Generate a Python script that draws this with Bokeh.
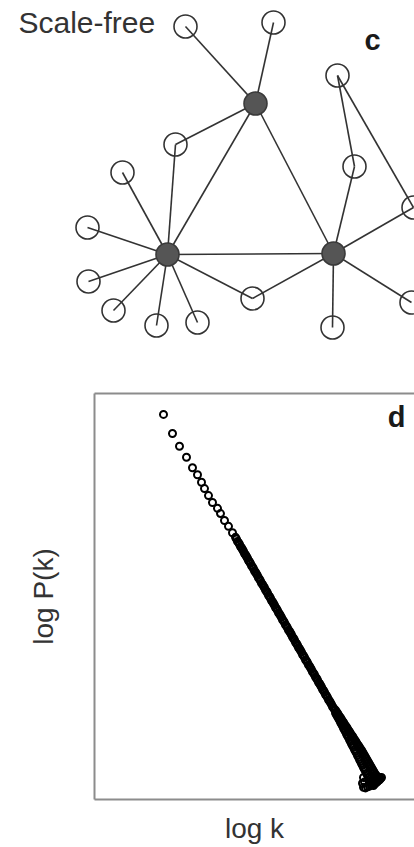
from bokeh.plotting import figure
from bokeh.models import Range1d, Label, LinearAxis, FixedTicker, ColumnDataSource
from bokeh.layouts import column
from bokeh.embed import file_html
from bokeh.resources import INLINE

# ---------------- Panel c: scale-free network (layout positions) ----------------
node_x = [255, 167, 333, 185, 273, 175, 337, 354, 413, 122, 87, 88, 113, 156, 197, 252, 332, 411]
node_y = [103, 254, 253, 26, 22, 144, 75, 166, 207, 172, 227, 281, 310, 325, 322, 298, 327, 302]
node_hub = [True, True, True] + [False] * 15
edge_from = [0, 0, 1, 0, 0, 0, 5, 6, 6, 7, 8, 9, 10, 11, 12, 13, 14, 15, 15, 16, 17]
edge_to = [1, 2, 2, 3, 4, 5, 1, 7, 8, 2, 2, 1, 1, 1, 1, 1, 1, 1, 2, 2, 2]

# ---------------- Panel d: degree distribution (log k, log P(k)) ----------------
log_k = [0.69, 0.78, 0.85, 0.92, 0.98, 1.03, 1.07, 1.10, 1.14, 1.18, 1.23, 1.26, 1.30, 1.34, 1.38, 1.41,
         1.42, 1.43, 1.44, 1.45, 1.46, 1.47, 1.48, 1.49, 1.50, 1.51, 1.52, 1.53, 1.54, 1.55, 1.56, 1.57,
         1.58, 1.59, 1.60, 1.61, 1.62, 1.63, 1.64, 1.65, 1.66, 1.67, 1.68, 1.69, 1.70, 1.71, 1.72, 1.73,
         1.74, 1.75, 1.76, 1.77, 1.78, 1.79, 1.80, 1.81, 1.82, 1.83, 1.84, 1.85, 1.86, 1.87, 1.88, 1.89,
         1.90, 1.91, 1.92, 1.93, 1.94, 1.95, 1.96, 1.97, 1.98, 1.99, 2.00, 2.01, 2.02, 2.03, 2.04, 2.05,
         2.06, 2.07, 2.08, 2.09, 2.10, 2.11, 2.12, 2.13, 2.14, 2.15, 2.16, 2.17, 2.18, 2.19, 2.20, 2.21,
         2.22, 2.23, 2.24, 2.25, 2.26, 2.27, 2.28, 2.29, 2.30, 2.31, 2.32, 2.33, 2.34, 2.35, 2.36, 2.37,
         2.38, 2.39, 2.40,
         2.41, 2.41, 2.42, 2.42, 2.43, 2.43, 2.44, 2.44, 2.45, 2.45, 2.46, 2.46, 2.47, 2.47, 2.48, 2.48,
         2.49, 2.49, 2.50, 2.50, 2.51, 2.51, 2.52, 2.52, 2.53, 2.53, 2.54, 2.54, 2.55, 2.55, 2.56, 2.56,
         2.57, 2.57, 2.58, 2.58, 2.59, 2.59, 2.60, 2.60, 2.61, 2.61, 2.62, 2.62, 2.63, 2.63, 2.64, 2.64,
         2.65, 2.65, 2.66, 2.66, 2.67, 2.67, 2.68, 2.68, 2.69, 2.69, 2.70, 2.70, 2.71, 2.71, 2.72, 2.72,
         2.73, 2.73, 2.74, 2.74, 2.75, 2.75, 2.76, 2.76, 2.77, 2.77, 2.78, 2.78, 2.79, 2.79, 2.80, 2.80,
         2.81, 2.81, 2.82, 2.82, 2.83, 2.83, 2.84, 2.84, 2.85, 2.85, 2.86, 2.87,
         2.69, 2.68, 2.69, 2.70, 2.71, 2.73, 2.75, 2.77, 2.79]
log_pk = [-0.36, -0.69, -0.91, -1.10, -1.28, -1.40, -1.53, -1.64, -1.76, -1.88, -1.98, -2.07, -2.19, -2.29, -2.40, -2.48,
          -2.51, -2.55, -2.57, -2.60, -2.64, -2.66, -2.69, -2.72, -2.76, -2.78, -2.81, -2.84, -2.88, -2.90, -2.93, -2.97,
          -2.99, -3.02, -3.06, -3.08, -3.11, -3.14, -3.18, -3.20, -3.23, -3.27, -3.29, -3.32, -3.35, -3.39, -3.41, -3.44,
          -3.48, -3.50, -3.53, -3.57, -3.59, -3.62, -3.65, -3.69, -3.71, -3.74, -3.78, -3.80, -3.83, -3.86, -3.90, -3.92,
          -3.95, -3.99, -4.01, -4.04, -4.08, -4.10, -4.13, -4.16, -4.20, -4.22, -4.25, -4.29, -4.31, -4.34, -4.38, -4.40,
          -4.43, -4.46, -4.50, -4.52, -4.55, -4.59, -4.61, -4.64, -4.68, -4.70, -4.73, -4.76, -4.80, -4.82, -4.85, -4.89,
          -4.91, -4.94, -4.98, -5.00, -5.03, -5.06, -5.10, -5.12, -5.15, -5.19, -5.21, -5.24, -5.28, -5.30, -5.33, -5.36,
          -5.40, -5.42, -5.45,
          -5.46, -5.51, -5.49, -5.54, -5.51, -5.57, -5.54, -5.60, -5.57, -5.63, -5.59, -5.67, -5.62, -5.70, -5.65, -5.73,
          -5.67, -5.77, -5.70, -5.80, -5.73, -5.83, -5.75, -5.87, -5.78, -5.90, -5.81, -5.93, -5.83, -5.97, -5.86, -6.00,
          -5.89, -6.04, -5.91, -6.07, -5.94, -6.10, -5.97, -6.14, -5.99, -6.17, -6.02, -6.20, -6.05, -6.24, -6.07, -6.27,
          -6.10, -6.31, -6.13, -6.34, -6.15, -6.38, -6.18, -6.41, -6.21, -6.45, -6.24, -6.48, -6.27, -6.51, -6.30, -6.55,
          -6.33, -6.58, -6.36, -6.62, -6.39, -6.65, -6.42, -6.68, -6.45, -6.70, -6.48, -6.72, -6.51, -6.73, -6.54, -6.73,
          -6.57, -6.72, -6.59, -6.70, -6.61, -6.69, -6.62, -6.67, -6.63, -6.66, -6.64, -6.62,
          -6.62, -6.72, -6.79, -6.70, -6.80, -6.78, -6.77, -6.75, -6.76]

FONT = "Liberation Sans"
INK = "#333333"
BOX = "#8c8c8c"

# ---------------- figure c ----------------
p1 = figure(width=414, height=358, x_range=Range1d(0, 414), y_range=Range1d(358, 0),
            output_backend="svg", toolbar_location=None, min_border=0,
            x_axis_location=None, y_axis_location=None)
p1.frame_align = False
p1.grid.visible = False
p1.outline_line_color = None

edges = ColumnDataSource(dict(
    x0=[node_x[i] for i in edge_from], y0=[node_y[i] for i in edge_from],
    x1=[node_x[j] for j in edge_to], y1=[node_y[j] for j in edge_to]))
p1.segment("x0", "y0", "x1", "y1", source=edges, line_color=INK, line_width=1.6)

hub_src = ColumnDataSource(dict(x=[x for x, h in zip(node_x, node_hub) if h],
                                y=[y for y, h in zip(node_y, node_hub) if h]))
leaf_src = ColumnDataSource(dict(x=[x for x, h in zip(node_x, node_hub) if not h],
                                 y=[y for y, h in zip(node_y, node_hub) if not h]))
p1.scatter("x", "y", source=leaf_src, marker="circle", size=23, fill_color=None,
           line_color=INK, line_width=1.6)
p1.scatter("x", "y", source=hub_src, marker="circle", size=23, fill_color="#555555",
           line_color="#3a3a3a", line_width=1.6)

p1.add_layout(Label(x=18, y=22, text="Scale-free", text_font=FONT, text_font_size="30px",
                    text_color=INK, text_align="left", text_baseline="middle"))
p1.add_layout(Label(x=372, y=39, text="c", text_font=FONT, text_font_size="29px",
                    text_font_style="bold", text_color="#1a1a1a", text_align="center",
                    text_baseline="middle"))

# ---------------- figure d ----------------
p2 = figure(width=414, height=489, x_range=Range1d(0, 3.2), y_range=Range1d(-7.0, 0.0),
            output_backend="svg", toolbar_location=None,
            min_border_left=94, min_border_right=0, min_border_top=35, min_border_bottom=48)
p2.frame_align = False
p2.grid.visible = False
p2.outline_line_color = None


def style_axis(ax):
    ax.ticker = FixedTicker(ticks=[])
    ax.axis_line_color = BOX
    ax.axis_line_width = 2
    ax.major_tick_line_color = None
    ax.minor_tick_line_color = None
    ax.major_tick_out = 0
    ax.major_tick_in = 0
    ax.major_label_standoff = 0
    ax.major_label_text_font_size = "0px"
    ax.axis_label_text_font = FONT
    ax.axis_label_text_font_size = "28px"
    ax.axis_label_text_font_style = "normal"
    ax.axis_label_text_color = INK


bottom_axis = p2.below[0]
left_axis = p2.left[0]
style_axis(bottom_axis)
style_axis(left_axis)
top_axis = LinearAxis()
style_axis(top_axis)
p2.add_layout(top_axis, "above")

left_axis.axis_label = "log P(k)"
left_axis.axis_label_standoff = 36
bottom_axis.axis_label = "log k"
bottom_axis.axis_label_standoff = 13

p2.scatter(log_k, log_pk, marker="circle", size=7, fill_color=None,
           line_color="#000000", line_width=2.0)

p2.add_layout(Label(x=3.02, y=-0.40, text="d", text_font=FONT, text_font_size="29px",
                    text_font_style="bold", text_color="#1a1a1a", text_align="center",
                    text_baseline="middle"))

layout = column(p1, p2)
open("out.html", "w").write(file_html(layout, INLINE))
